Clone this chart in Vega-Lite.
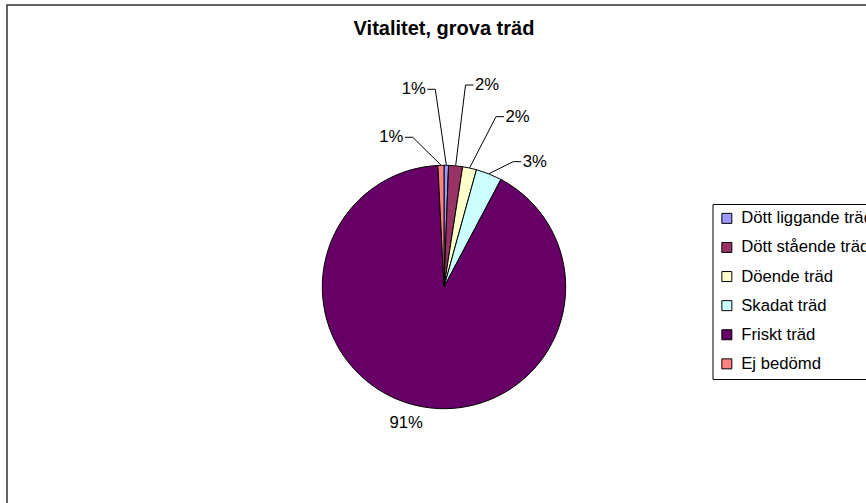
{
  "$schema": "https://vega.github.io/schema/vega-lite/v6.json",
  "width": 874,
  "height": 564,
  "autosize": {"type": "none"},
  "padding": {"left": 7, "top": 5, "right": -15, "bottom": -66},
  "background": "white",
  "view": {"stroke": "#333333", "strokeWidth": 1.5, "fill": null},
  "title": {
    "text": "Vitalitet, grova träd",
    "font": "Liberation Sans",
    "fontSize": 20,
    "fontWeight": "bold",
    "color": "black",
    "anchor": "middle",
    "frame": "group",
    "baseline": "alphabetic",
    "offset": -50
  },
  "config": {
    "view": {"stroke": "#333333", "strokeWidth": 1.5},
    "style": {"cell": {"stroke": "#333333", "strokeWidth": 1.5}, "view": {"stroke": "#333333", "strokeWidth": 1.5}},
    "font": "Liberation Sans"
  },
  "data": {
    "values": [
      {"kategori": "Dött liggande träd", "andel": 0.006, "ordning": 1},
      {"kategori": "Dött stående träd", "andel": 0.0185, "ordning": 2},
      {"kategori": "Döende träd", "andel": 0.0185, "ordning": 3},
      {"kategori": "Skadat träd", "andel": 0.0345, "ordning": 4},
      {"kategori": "Friskt träd", "andel": 0.9145, "ordning": 5},
      {"kategori": "Ej bedömd", "andel": 0.008, "ordning": 6}
    ]
  },
  "transform": [
    {"stack": "andel", "groupby": [], "sort": [{"field": "ordning", "order": "ascending"}], "as": ["s0", "s1"]},
    {"calculate": "(datum.s0 + datum.s1) / 2", "as": "mid"},
    {"calculate": "datum.kategori === 'Dött liggande träd' ? -9.77 : datum.kategori === 'Dött stående träd' ? 6.53 : datum.kategori === 'Döende träd' ? 11.19 : datum.kategori === 'Skadat träd' ? 14.2 : datum.kategori === 'Friskt träd' ? 3.1 : -17.96", "as": "off"},
    {"calculate": "datum.kategori === 'Dött liggande träd' ? 200 : datum.kategori === 'Dött stående träd' ? 206.5 : datum.kategori === 'Döende träd' ? 185.5 : datum.kategori === 'Skadat träd' ? 154.7 : datum.kategori === 'Friskt träd' ? 140.9 : 158.7", "as": "lr"},
    {"calculate": "datum.mid + datum.off / 360", "as": "lt"}
  ],
  "layer": [
    {
      "mark": {"type": "arc", "outerRadius": 121.7, "stroke": "black", "strokeWidth": 1},
      "encoding": {
        "theta": {"field": "s0", "type": "quantitative", "scale": {"domain": [0, 1]}},
        "theta2": {"field": "s1"},
        "color": {
          "field": "kategori",
          "type": "nominal",
          "sort": ["Dött liggande träd", "Dött stående träd", "Döende träd", "Skadat träd", "Friskt träd", "Ej bedömd"],
          "scale": {
            "domain": ["Dött liggande träd", "Dött stående träd", "Döende träd", "Skadat träd", "Friskt träd", "Ej bedömd"],
            "range": ["#9999FF", "#993366", "#FFFFCC", "#CCFFFF", "#660066", "#FF8080"]
          },
          "legend": {
            "orient": "none",
            "legendX": 705.5,
            "legendY": 199,
            "title": null,
            "strokeColor": "black",
            "fillColor": "white",
            "padding": 6,
            "symbolType": "square",
            "symbolSize": 100,
            "symbolStrokeColor": "black",
            "symbolStrokeWidth": 1,
            "symbolOpacity": 1,
            "labelFont": "Liberation Sans",
            "labelFontSize": 16.7,
            "labelColor": "black",
            "labelOffset": 6,
            "labelLimit": 400,
            "rowPadding": 11.1
          }
        }
      }
    },
    {
      "mark": {"type": "text", "fontSize": 16.7, "font": "Liberation Sans", "color": "black", "align": "center", "baseline": "middle"},
      "encoding": {
        "theta": {"field": "lt", "type": "quantitative", "scale": {"domain": [0, 1]}},
        "radius": {"field": "lr", "type": "quantitative", "scale": null},
        "text": {"field": "andel", "type": "quantitative", "format": ".0%"}
      }
    },
    {
      "transform": [
        {"filter": "datum.kategori !== 'Friskt träd'"},
        {"calculate": "2 * PI * datum.mid", "as": "a"},
        {"calculate": "2 * PI * datum.lt", "as": "la"},
        {"calculate": "datum.lr * sin(datum.la)", "as": "lx"},
        {"calculate": "datum.lr * cos(datum.la)", "as": "ly"},
        {"calculate": "datum.lx > 0 ? 1 : -1", "as": "side"},
        {"calculate": "[{px: 122 * sin(datum.a), py: 122 * cos(datum.a)}, {px: datum.lx - datum.side * 21.5, py: datum.ly}, {px: datum.lx - datum.side * 13.5, py: datum.ly}]", "as": "pts"},
        {"flatten": ["pts"]},
        {"calculate": "datum.pts.px", "as": "px"},
        {"calculate": "datum.pts.py", "as": "py"}
      ],
      "mark": {"type": "line", "color": "black", "strokeWidth": 1},
      "encoding": {
        "x": {"field": "px", "type": "quantitative", "scale": {"domain": [-437, 437], "nice": false, "zero": false}, "axis": null},
        "y": {"field": "py", "type": "quantitative", "scale": {"domain": [-282, 282], "nice": false, "zero": false}, "axis": null},
        "detail": {"field": "kategori", "type": "nominal"}
      }
    }
  ]
}
